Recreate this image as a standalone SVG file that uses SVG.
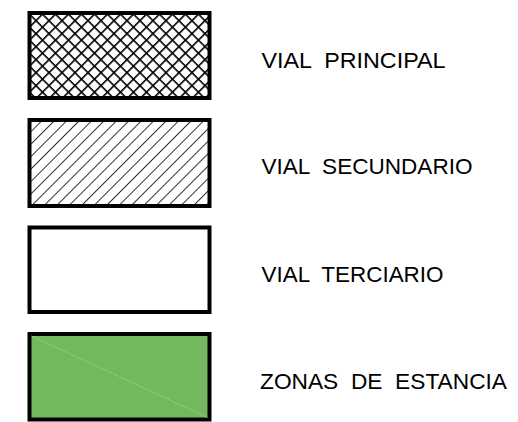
<svg xmlns="http://www.w3.org/2000/svg" width="518" height="422" viewBox="0 0 518 422">
  <style>
    .box { stroke: #000; stroke-width: 4; }
    .lbl { font-family: "Liberation Sans", Arial, sans-serif; font-size: 22px; fill: #000; white-space: pre; }
  </style>
  <defs>
    <pattern id="cross" patternUnits="userSpaceOnUse" width="9.19" height="9.19" patternTransform="translate(29.5,13) rotate(45)">
      <rect width="9.19" height="9.19" fill="#fff"/>
      <line x1="0" y1="0" x2="9.19" y2="0" stroke="#000" stroke-width="3.2"/>
      <line x1="0" y1="0" x2="0" y2="9.19" stroke="#000" stroke-width="3.2"/>
    </pattern>
    <pattern id="diag" patternUnits="userSpaceOnUse" width="8.8" height="8.8" patternTransform="translate(29.5,120) rotate(45)">
      <rect width="8.8" height="8.8" fill="#fff"/>
      <line x1="0" y1="0" x2="0" y2="8.8" stroke="#000" stroke-width="1.6"/>
    </pattern>
  </defs>
  <g id="vial-principal">
    <rect class="box" x="29.5" y="13" width="180" height="85" fill="url(#cross)"/>
    <text class="lbl" x="261.5" y="67.7" textLength="184" lengthAdjust="spacingAndGlyphs" xml:space="preserve">VIAL  PRINCIPAL</text>
  </g>
  <g id="vial-secundario">
    <rect class="box" x="29.5" y="120" width="180" height="86" fill="url(#diag)"/>
    <text class="lbl" x="261.5" y="174" textLength="211" lengthAdjust="spacingAndGlyphs" xml:space="preserve">VIAL  SECUNDARIO</text>
  </g>
  <g id="vial-terciario">
    <rect class="box" x="29.5" y="227.5" width="180" height="84.5" fill="#fff"/>
    <text class="lbl" x="261.5" y="282" textLength="182" lengthAdjust="spacingAndGlyphs" xml:space="preserve">VIAL  TERCIARIO</text>
  </g>
  <g id="zonas-estancia">
    <rect class="box" x="29.5" y="334" width="180" height="85.5" fill="#73b85d"/>
    <line x1="31.5" y1="336" x2="207.5" y2="417.5" stroke="#a9d898" stroke-width="0.8" stroke-dasharray="1.5,1"/>
    <text class="lbl" x="260" y="388.5" textLength="247" lengthAdjust="spacingAndGlyphs" xml:space="preserve">ZONAS  DE  ESTANCIA</text>
  </g>
</svg>
